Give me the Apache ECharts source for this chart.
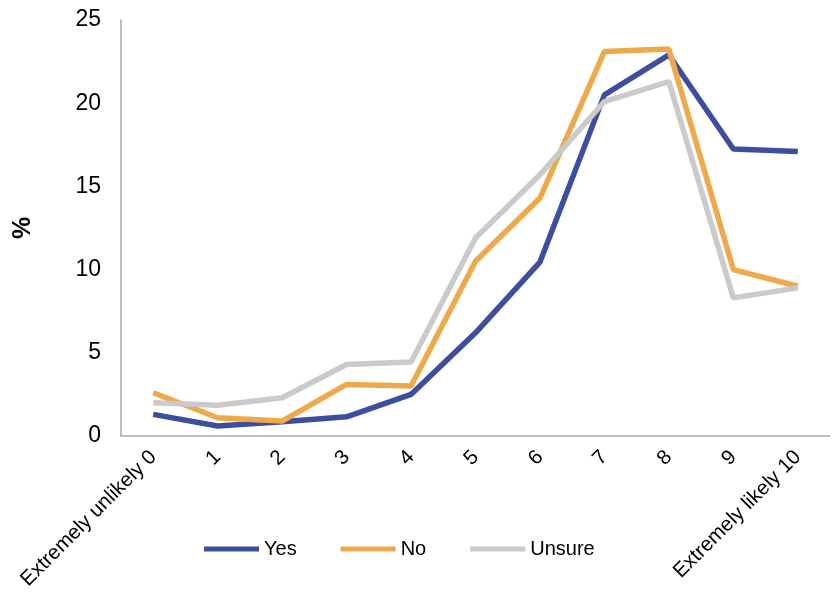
<!DOCTYPE html>
<html><head><meta charset="utf-8">
<script src="https://cdn.jsdelivr.net/npm/echarts@6/dist/echarts.min.js"></script>
<style>html,body{margin:0;padding:0;background:#fff}#c{width:837px;height:595px}</style>
</head><body><div id="c"></div>
<script>
var categories = ['Extremely unlikely 0','1','2','3','4','5','6','7','8','9','Extremely likely 10'];
var yesValues = [1.3, 0.6, 0.85, 1.15, 2.5, 6.2, 10.45, 20.5, 22.9, 17.25, 17.1];
var noValues = [2.6, 1.1, 0.9, 3.1, 3.0, 10.5, 14.3, 23.1, 23.25, 10.0, 9.0];
var unsureValues = [2.0, 1.85, 2.3, 4.3, 4.45, 11.9, 15.7, 20.1, 21.3, 8.3, 8.9];
var yTicks = [0, 5, 10, 15, 20, 25];

var chart = echarts.init(document.getElementById('c'));
var font = 'Liberation Sans, Arial, sans-serif';
function line(name, data, color) {
  return { name: name, type: 'line', data: data, symbol: 'none', smooth: false,
    lineStyle: { width: 5.5, color: color }, itemStyle: { color: color } };
}
chart.setOption({
  animation: false,
  grid: { left: 121, right: 7, top: 20, bottom: 159 },
  legend: {
    top: 539, left: 204, padding: 0, itemWidth: 55, itemHeight: 5, itemGap: 44,
    icon: 'rect',
    textStyle: { fontFamily: font, fontSize: 20, color: '#000' },
    data: ['Yes','No','Unsure']
  },
  xAxis: {
    type: 'category', data: categories, boundaryGap: true,
    axisLine: { lineStyle: { color: '#A6A6A6', width: 1.5 } },
    axisTick: { show: false },
    axisLabel: { rotate: 45, interval: 0, fontFamily: font, fontSize: 20.5, color: '#000', margin: 18 }
  },
  yAxis: {
    type: 'value', min: yTicks[0], max: yTicks[yTicks.length-1], interval: 5,
    name: '%', nameLocation: 'middle', nameGap: 85, nameRotate: 90,
    nameTextStyle: { fontFamily: font, fontSize: 25, fontWeight: 'bold', color: '#000' },
    axisLine: { show: true, lineStyle: { color: '#A6A6A6', width: 1.5 } },
    axisTick: { show: false },
    splitLine: { show: false },
    axisLabel: { fontFamily: font, fontSize: 23, color: '#000', margin: 20 }
  },
  series: [
    line('Yes', yesValues, '#3D4EA1'),
    line('No', noValues, '#EDA94A'),
    line('Unsure', unsureValues, '#CACACA')
  ]
});
</script></body></html>
